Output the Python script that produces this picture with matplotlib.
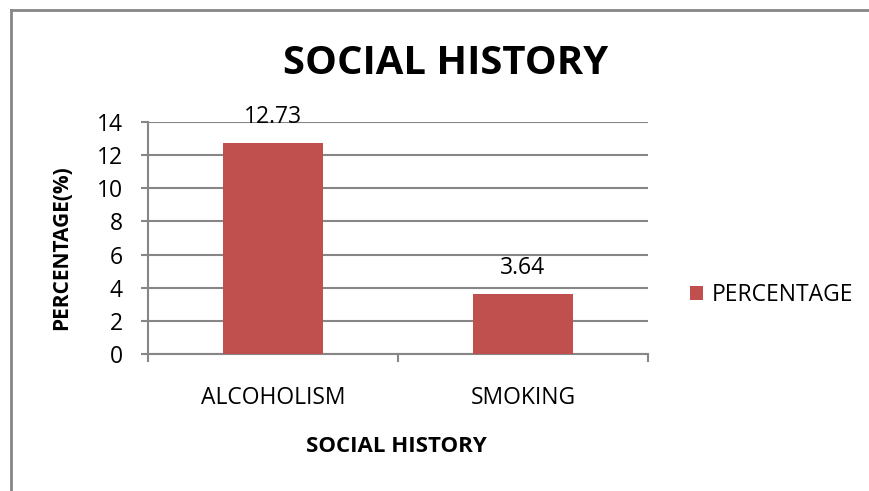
import matplotlib.pyplot as plt
from matplotlib.lines import Line2D

categories = ["ALCOHOLISM", "SMOKING"]
percentages = [12.73, 3.64]
series_name = "PERCENTAGE"

plt.rcParams['font.family'] = ['Open Sans', 'DejaVu Sans']

fig = plt.figure(figsize=(8.7, 4.91), dpi=100)
ax = fig.add_axes([148 / 870, 1 - 354 / 491, 500 / 870, 232 / 491])

grid_col = '#868686'
bar_col = '#c0504d'

x = list(range(len(categories)))
bars = ax.bar(x, percentages, width=0.4, color=bar_col, label=series_name, zorder=3)
for xi, v in zip(x, percentages):
    ax.annotate(f"{v:.2f}", xy=(xi, v), xytext=(0, 14.5), textcoords='offset points',
                ha='center', va='baseline', fontsize=16.5, color='black')

ax.set_xlim(-0.5, len(categories) - 0.5)
ax.set_ylim(0, 14)
ax.set_yticks(range(0, 15, 2))
ax.yaxis.grid(True, color=grid_col, linewidth=1.5, zorder=0)
ax.tick_params(axis='y', labelsize=16.5, length=5, width=1.5, color=grid_col, pad=13)

ax.set_xticks(x)
ax.set_xticklabels(categories)
ax.set_xticks([i - 0.5 for i in range(len(categories) + 1)], minor=True)
ax.tick_params(axis='x', which='major', length=0, labelsize=16.5, pad=23)
ax.tick_params(axis='x', which='minor', length=6, width=1.5, color=grid_col)

for side in ('top', 'right'):
    ax.spines[side].set_visible(False)
for side in ('left', 'bottom'):
    ax.spines[side].set_color(grid_col)
    ax.spines[side].set_linewidth(1.5)

ax.set_xlabel("SOCIAL HISTORY", fontsize=16, fontweight='bold')
ax.xaxis.set_label_coords(0.497, -0.352)
ax.set_ylabel("PERCENTAGE(%)", fontsize=15, fontweight='bold')
ax.yaxis.set_label_coords(-0.152, 0.457)

fig.text(446 / 870, 1 - 64 / 491, "SOCIAL HISTORY", ha='center', va='center',
         fontsize=28.8, fontweight='bold')

fig.legend(handles=[bars], loc='center left', bbox_to_anchor=(669 / 870, 1 - 295 / 491),
           frameon=False, fontsize=16.5, handlelength=0.6, handleheight=0.6,
           handletextpad=0.35)

# outer chart border (left and top edges visible)
fig.add_artist(Line2D([11 / 870, 11 / 870], [0, 1 - 10 / 491], transform=fig.transFigure,
                      color=grid_col, linewidth=2))
fig.add_artist(Line2D([11 / 870, 1], [1 - 10 / 491, 1 - 10 / 491], transform=fig.transFigure,
                      color=grid_col, linewidth=2))

fig.savefig("out.png", dpi=100)
